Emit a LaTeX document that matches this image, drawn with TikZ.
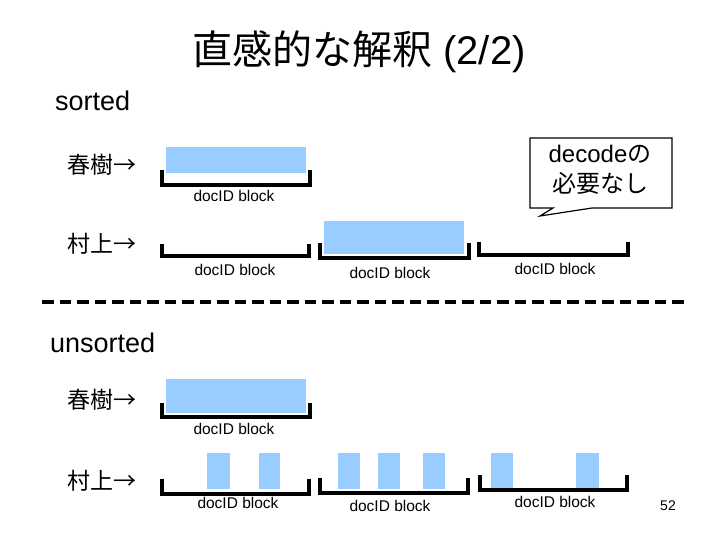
\documentclass[tikz,border=0pt]{standalone}
\usepackage{fontspec}
\setmainfont{Liberation Sans}
\newfontfamily\jp{Noto Sans CJK JP}
\definecolor{blk}{HTML}{99CCFF}
\begin{document}
\begin{tikzpicture}[x=1pt,y=-1pt,
  brk/.style={line width=4pt},
  blkbox/.style={fill=blk,draw=white,line width=0.8pt},
  lbl/.style={font=\fontsize{15.5}{17}\selectfont,inner sep=0pt},
  term/.style={font=\jp\fontsize{23}{25}\selectfont,inner sep=0pt,anchor=west},
  sect/.style={font=\fontsize{27}{29}\selectfont,inner sep=0pt,anchor=west}]
\useasboundingbox (0,0) rectangle (720,540);
% title
\node[inner sep=0pt] (title) at (359,52) {\fontsize{40}{42}\selectfont{\jp 直感的な解釈} (2/2)};
\node[sect] (sorted) at (55,101) {sorted};
\node[sect] (unsorted) at (50,343) {unsorted};
% sorted rows
\node[term] (t1) at (67,165) {春樹→};
\node[term] (t2) at (67,244) {村上→};
\draw[blkbox] (165,146) rectangle (306,173);
\draw[brk] (162,170) -- (162,185) -- (310,185) -- (310,170);
\node[lbl] (l1) at (234,196) {docID block};
\draw[brk] (162,244) -- (162,256) -- (309,256) -- (309,244);
\draw[blkbox] (323,220) rectangle (464,254);
\draw[brk] (320,243) -- (320,258) -- (469,258) -- (469,243);
\draw[brk] (479,242) -- (479,255) -- (628,255) -- (628,242);
\node[lbl] (l2) at (235,270) {docID block};
\node[lbl] (l3) at (390,273) {docID block};
\node[lbl] (l4) at (555,269) {docID block};
% callout
\draw[line width=1.2pt] (530,138) -- (672,138) -- (672,208) -- (592,208) -- (540,216) -- (553,208) -- (530,208) -- cycle;
\node[inner sep=0pt,align=center,font=\fontsize{24}{30}\selectfont] (note) at (600,170) {decode{\jp の}\\{\jp 必要なし}};
% separator
\draw[line width=4pt,dash pattern=on 11.5pt off 6pt] (42,302) -- (684,302);
% unsorted rows
\node[term] (t3) at (67,400) {春樹→};
\node[term] (t4) at (67,481) {村上→};
\draw[blkbox] (165,378) rectangle (306,413);
\draw[brk] (162,403) -- (162,417) -- (310,417) -- (310,403);
\node[lbl] (l5) at (234,429) {docID block};
\foreach \a/\b in {206/230,258/280,337/360,377/400,422/445,490/513,575/599}
  \draw[blkbox] (\a,452) rectangle (\b,489);
\draw[brk] (162,479) -- (162,494) -- (309,494) -- (309,479);
\draw[brk] (320,478) -- (320,493) -- (468,493) -- (468,478);
\draw[brk] (480,475) -- (480,490) -- (627,490) -- (627,475);
\node[lbl] (l6) at (238,503) {docID block};
\node[lbl] (l7) at (390,506) {docID block};
\node[lbl] (l8) at (555,502) {docID block};
\node[inner sep=0pt,font=\fontsize{14}{16}\selectfont] (pg) at (668,506) {52};
\end{tikzpicture}
\end{document}
